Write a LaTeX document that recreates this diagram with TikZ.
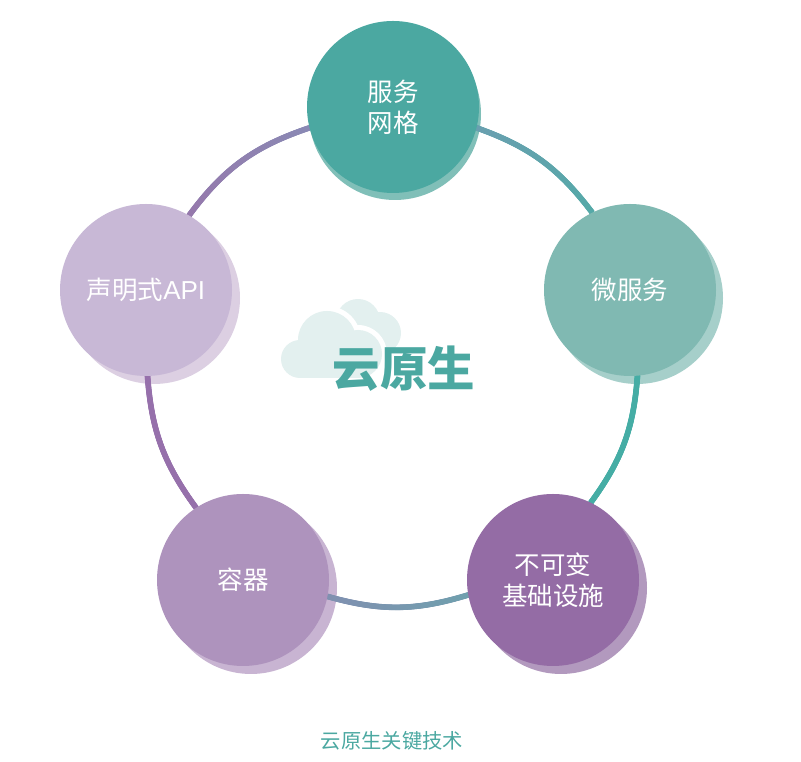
\documentclass[tikz,border=0pt]{standalone}
\usepackage{fontspec}
\setmainfont{Noto Sans CJK SC}
\newfontfamily\apifont{Liberation Sans}
\usetikzlibrary{backgrounds, decorations.markings}
\definecolor{tealdeep}{HTML}{4BA8A1}
\definecolor{tealsoft}{HTML}{80BFB8}
\definecolor{tealpale}{HTML}{80B9B2}
\definecolor{tealmist}{HTML}{A6CFCA}
\definecolor{plumdeep}{HTML}{946CA5}
\definecolor{plumsoft}{HTML}{B299BE}
\definecolor{plummid}{HTML}{AE93BD}
\definecolor{plummist}{HTML}{C8B4D2}
\definecolor{lilacpale}{HTML}{C8B8D6}
\definecolor{lilacmist}{HTML}{DCCFE2}
\definecolor{cloudmist}{HTML}{E3F0EF}
\definecolor{ringa}{HTML}{6A9FB0}
\definecolor{ringb}{HTML}{55A9A8}
\definecolor{ringc}{HTML}{45ADA5}
\definecolor{ringd}{HTML}{6FA0AE}
\definecolor{ringe}{HTML}{8090B0}
\definecolor{ringf}{HTML}{9670AB}
\definecolor{ringg}{HTML}{9678AC}
\definecolor{ringh}{HTML}{8A89B4}

\begin{document}
\begin{tikzpicture}[
  x=1pt, y=1pt,
  tech/.style={circle, minimum size=172pt, inner sep=0pt, outer sep=0pt, text=white, align=center,
    font=\fontsize{25.5}{31}\selectfont},
  tint/.style={circle, minimum size=172pt, inner sep=0pt, outer sep=0pt},
  ringarc/.style 2 args={line width=5.6pt, draw=#2, postaction={decorate}, decoration={markings,
    mark=between positions 0 and 1 step 1pt with {
      \pgfmathsetmacro{\ringmix}{100*\pgfkeysvalueof{/pgf/decoration/mark info/distance from start}/\pgfdecoratedpathlength}
      \fill[#2!\ringmix!#1] (0,0) circle (2.8pt);
    }}},
  puff/.style={fill=cloudmist},
  puffedge/.style={fill=white}
]
\useasboundingbox (0,0) rectangle (801,762);

% the five technologies
\node[tech, fill=tealdeep] (mesh) at (393,655) {服务\\网格};
\node[tech, fill=tealpale] (micro) at (630,472) {微服务};
\node[tech, fill=plumdeep] (immutable) at (553,182) {不可变\\基础设施};
\node[tech, fill=plummid] (container) at (243,182) {容器};
\node[tech, fill=lilacpale] (declarative) at (146,472) {声明式{\apifont\fontsize{26}{31}\selectfont API}};

% cloud behind the title
\fill[puff] (358,441) circle (22);
\fill[puff] (380,429) circle (21);
\fill[puff] (345,420) rectangle (385,410);
\foreach \cx/\cy/\cr in {300/403/19, 327/422/29, 358/408/24} {
  \fill[puffedge] (\cx,\cy) circle ({\cr+5});
}
\fill[puffedge] (300,379) rectangle (358,400);
\foreach \cx/\cy/\cr in {300/403/19, 327/422/29, 358/408/24} {
  \fill[puff] (\cx,\cy) circle (\cr);
}
\fill[puff] (300,384) rectangle (358,410);

\node[text=tealdeep, font=\fontsize{47.5}{47.5}\selectfont\bfseries] (title) at (404,393) {云原生};
\node[text=tealdeep, font=\fontsize{20.3}{24}\selectfont] (caption) at (392,21) {云原生关键技术};

\begin{scope}[on background layer]
\node[tint, fill=tealsoft] (meshtint) at ([shift={(2,-7)}]mesh) {};
\node[tint, fill=tealmist] (microtint) at ([shift={(7,-8)}]micro) {};
\node[tint, fill=plumsoft] (immutabletint) at ([shift={(8,-8)}]immutable) {};
\node[tint, fill=plummist] (containertint) at ([shift={(8,-8)}]container) {};
\node[tint, fill=lilacmist] (declarativetint) at ([shift={(8,-8)}]declarative) {};

\draw[ringarc={ringa}{ringb}] (mesh.-14) to[bend left=16.7] (micro.116);
\draw[ringarc={ringc}{ringc}] (micro.-85) to[bend left=16] (immutable.64);
\draw[ringarc={ringd}{ringe}] (immutable.190) to[bend left=16.4] (container.-11);
\draw[ringarc={ringf}{ringf}] (container.123) to[bend left=16] (declarative.-89);
\draw[ringarc={ringg}{ringh}] (declarative.60) to[bend left=17.5] (mesh.194);
\end{scope}
\end{tikzpicture}
\end{document}
